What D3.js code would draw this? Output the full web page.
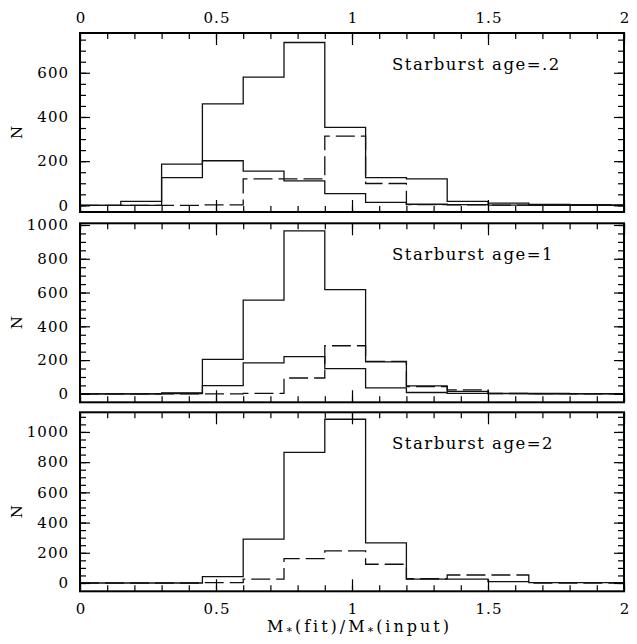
<!DOCTYPE html>
<html>
<head>
<meta charset="utf-8">
<script src="https://cdn.jsdelivr.net/npm/d3@7/dist/d3.min.js"></script>
<style>
  html, body { margin: 0; padding: 0; background: #fff; }
  svg { display: block; }
  text { font-family: "DejaVu Serif", "Liberation Serif", serif; fill: #000; }
</style>
</head>
<body>
<script>
// Histogram bins: width 0.15 in M*(fit)/M*(input), starting at 0
const binStarts = [0, 0.15, 0.3, 0.45, 0.6, 0.75, 0.9, 1.05, 1.2, 1.35, 1.5, 1.65, 1.8, 1.95];

// Starburst age = .2
const age02Total  = [0, 18, 187, 459, 580, 737, 353, 126, 120, 18, 10, 4, 3, 2];
const age02Thin   = [0, 0, 126, 202, 155, 111, 53, 14, 5, 3, 1, 0, 0, 0];
const age02Dashed = [0, 0, 0, 2, 120, 120, 313, 99, 3, 2, 1, 0, 0, 0];

// Starburst age = 1
const age1Total  = [0, 0, 6, 204, 555, 965, 617, 189, 47, 15, 3, 2, 1, 1];
const age1Thin   = [0, 0, 2, 49, 183, 220, 149, 35, 8, 3, 1, 0, 0, 0];
const age1Dashed = [0, 0, 0, 0, 3, 94, 285, 192, 43, 24, 2, 1, 0, 0];

// Starburst age = 2
const age2Total  = [0, 0, 0, 42, 290, 865, 1084, 265, 25, 25, 9, 3, 2, 2];
const age2Dashed = [0, 0, 0, 2, 25, 161, 212, 124, 28, 53, 53, 0, 0, 0];

// Axis ticks
const xMajorTicks = [0, 0.5, 1, 1.5, 2];
const xMinorTicks = d3.range(0, 2.0001, 0.1).map(v => +v.toFixed(2));
const yTicksAge02 = [0, 200, 400, 600];
const yTicksAge1  = [0, 200, 400, 600, 800, 1000];
const yTicksAge2  = [0, 200, 400, 600, 800, 1000];

const panelLabels = ["Starburst age=.2", "Starburst age=1", "Starburst age=2"];

const W = 637, H = 644;
const svg = d3.select("body").append("svg").attr("width", W).attr("height", H);

const x = d3.scaleLinear().domain([0, 2]).range([80, 624]);

const panels = [
  { top: 33,    bottom: 212,   yDomain: [-30, 780],  yTicks: yTicksAge02, label: panelLabels[0],
    series: [{ v: age02Total, dash: null }, { v: age02Thin, dash: null }, { v: age02Dashed, dash: "19,6" }],
    topLabels: true, bottomLabels: false },
  { top: 223.3, bottom: 402.3, yDomain: [-50, 1010], yTicks: yTicksAge1, label: panelLabels[1],
    series: [{ v: age1Total, dash: null }, { v: age1Thin, dash: null }, { v: age1Dashed, dash: "19,6" }],
    topLabels: false, bottomLabels: false },
  { top: 412.3, bottom: 591.3, yDomain: [-55, 1130], yTicks: yTicksAge2, label: panelLabels[2],
    series: [{ v: age2Total, dash: null }, { v: age2Dashed, dash: "19,6" }],
    topLabels: false, bottomLabels: true }
];

const fontSize = 15;

panels.forEach((p, i) => {
  const y = d3.scaleLinear().domain(p.yDomain).range([p.bottom, p.top]);
  const g = svg.append("g");

  const clipId = "clip" + i;
  svg.append("clipPath").attr("id", clipId)
    .append("rect").attr("x", x(0)).attr("y", p.top).attr("width", x(2) - x(0)).attr("height", p.bottom - p.top);

  // histogram step lines
  const line = d3.line().x(d => x(d[0])).y(d => y(d[1])).curve(d3.curveStepAfter);
  p.series.forEach(s => {
    const pts = binStarts.map((b, k) => [b, s.v[k]]);
    pts.push([2, s.v[s.v.length - 1]]);
    g.append("path")
      .attr("clip-path", `url(#${clipId})`)
      .attr("d", line(pts))
      .attr("fill", "none")
      .attr("stroke", "#111")
      .attr("stroke-width", 1.3)
      .attr("stroke-dasharray", s.dash);
  });

  // axes with inward ticks on all four sides
  const addAxis = (axis, transform, anchorShift) => {
    const a = g.append("g").attr("transform", transform).call(axis);
    a.select(".domain").remove();
    a.selectAll(".tick line").attr("stroke", "#000").attr("stroke-width", 1.2);
    a.selectAll("text")
      .style("font-size", fontSize + "px")
      .style("font-family", "DejaVu Serif")
      .style("letter-spacing", "1px")
      .attr("fill", "#000");
    if (anchorShift) a.selectAll("text").attr("dx", anchorShift);
    return a;
  };

  // bottom
  addAxis(d3.axisBottom(x).tickValues(xMinorTicks).tickSize(-6).tickFormat(""), `translate(0,${p.bottom})`);
  addAxis(d3.axisBottom(x).tickValues(xMajorTicks).tickSize(-12).tickPadding(12)
    .tickFormat(p.bottomLabels ? d3.format("") : ""), `translate(0,${p.bottom})`, 0.5);
  // top
  addAxis(d3.axisTop(x).tickValues(xMinorTicks).tickSize(-6).tickFormat(""), `translate(0,${p.top})`);
  addAxis(d3.axisTop(x).tickValues(xMajorTicks).tickSize(-12).tickPadding(10)
    .tickFormat(p.topLabels ? d3.format("") : ""), `translate(0,${p.top})`, 0.5);

  const yMinor = d3.range(0, p.yDomain[1] + 0.001, 50);
  // left
  addAxis(d3.axisLeft(y).tickValues(yMinor).tickSize(-6).tickFormat(""), `translate(${x(0)},0)`);
  addAxis(d3.axisLeft(y).tickValues(p.yTicks).tickSize(-10).tickPadding(11).tickFormat(d3.format("")), `translate(${x(0)},0)`);
  // right
  addAxis(d3.axisRight(y).tickValues(yMinor).tickSize(-6).tickFormat(""), `translate(${x(2)},0)`);
  addAxis(d3.axisRight(y).tickValues(p.yTicks).tickSize(-10).tickFormat(""), `translate(${x(2)},0)`);

  // frame
  g.append("rect")
    .attr("x", x(0)).attr("y", p.top)
    .attr("width", x(2) - x(0)).attr("height", p.bottom - p.top)
    .attr("fill", "none").attr("stroke", "#000").attr("stroke-width", 2);

  // y label
  const cy = (p.top + p.bottom) / 2 + 10;
  g.append("text")
    .attr("transform", `translate(22,${cy}) rotate(-90)`)
    .attr("text-anchor", "middle")
    .style("font-size", fontSize + "px")
    .text("N");

  // panel annotation
  g.append("text")
    .attr("x", 392).attr("y", p.top + 36.5)
    .style("font-size", "16.5px")
    .style("letter-spacing", "1.5px")
    .text(p.label);
});

// x-axis title: M*(fit)/M*(input)
const xt = svg.append("text")
  .attr("x", 267).attr("y", 632)
  .attr("text-anchor", "start")
  .style("font-size", "16px")
  .style("letter-spacing", "3px");
xt.append("tspan").text("M");
xt.append("tspan").attr("dy", 3).style("font-size", "11px").text("*");
xt.append("tspan").attr("dy", -3).text("(fit)/M");
xt.append("tspan").attr("dy", 3).style("font-size", "11px").text("*");
xt.append("tspan").attr("dy", -3).text("(input)");
</script>
</body>
</html>
